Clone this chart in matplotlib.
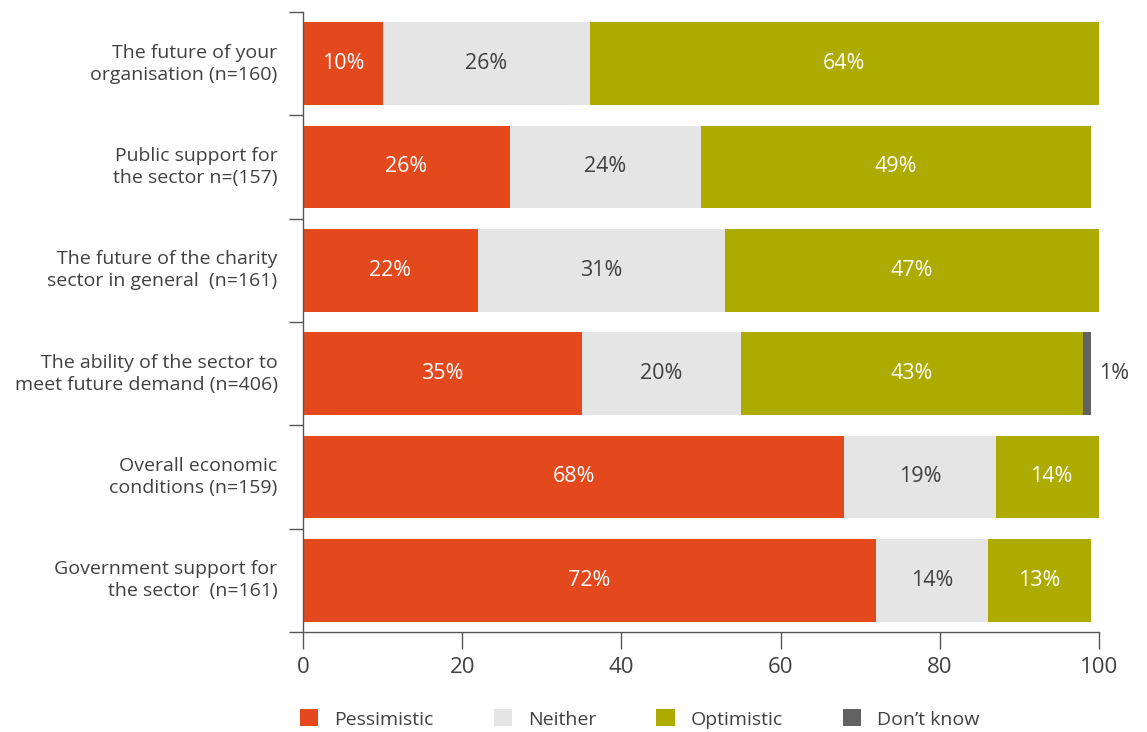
import matplotlib
matplotlib.use("Agg")
import matplotlib.pyplot as plt
from matplotlib.patches import Patch

plt.rcParams['font.family'] = ['Open Sans', 'DejaVu Sans']

categories = [
    "The future of your\norganisation (n=160)",
    "Public support for\nthe sector n=(157)",
    "The future of the charity\nsector in general  (n=161)",
    "The ability of the sector to\nmeet future demand (n=406)",
    "Overall economic\nconditions (n=159)",
    "Government support for\nthe sector  (n=161)",
]
pessimistic = [10, 26, 22, 35, 68, 72]
neither = [26, 24, 31, 20, 19, 14]
optimistic = [64, 49, 47, 43, 14, 13]
dont_know = [0, 0, 0, 1, 0, 0]
series_names = ["Pessimistic", "Neither", "Optimistic", "Don\u2019t know"]
x_ticks = [0, 20, 40, 60, 80, 100]

colors = ["#E4491E", "#E5E5E5", "#ADAA00", "#626262"]
text_colors = ["white", "#404040", "white", "#404040"]

fig = plt.figure(figsize=(11.47, 7.32), dpi=100)
ax = fig.add_axes([303 / 1147, 100 / 732, 796 / 1147, 620 / 732])

series = [pessimistic, neither, optimistic, dont_know]
ypos = list(range(len(categories)))
left = [0] * len(categories)
for vals, col, tcol in zip(series, colors, text_colors):
    ax.barh(ypos, vals, left=left, height=0.8, color=col, linewidth=0)
    for y, v, l in zip(ypos, vals, left):
        if v <= 0:
            continue
        if v >= 5:
            ax.text(l + v / 2, y, f"{v}%", ha="center", va="center",
                    color=tcol, fontsize=15.5)
        else:
            ax.text(l + v + 1.0, y, f"{v}%", ha="left", va="center",
                    color="#404040", fontsize=15.5, clip_on=False)
    left = [a + b for a, b in zip(left, vals)]

ax.set_xlim(0, 100)
ax.set_ylim(len(categories) - 0.5, -0.5)
ax.set_xticks(x_ticks)
ax.set_xticklabels([str(t) for t in x_ticks])
ax.tick_params(axis="x", length=12, width=1, color="#555555",
               labelsize=16, labelcolor="#404040", pad=6)

# y ticks sit on the boundaries between categories
ax.set_yticks([i - 0.5 for i in range(len(categories) + 1)])
ax.set_yticklabels([])
ax.tick_params(axis="y", length=10, width=1, color="#555555")
for y, name in zip(ypos, categories):
    ax.text(-3.2, y, name, ha="right", va="center", fontsize=14,
            color="#404040", linespacing=1.3, transform=ax.transData)

for side in ("top", "right"):
    ax.spines[side].set_visible(False)
for side in ("left", "bottom"):
    ax.spines[side].set_color("#555555")
    ax.spines[side].set_linewidth(1)

handles = [Patch(facecolor=c, edgecolor="none") for c in colors]
fig.legend(handles, series_names, loc="center left",
           bbox_to_anchor=(300 / 1147, 1 - 719 / 732), ncol=4, frameon=False,
           fontsize=14, labelcolor="#404040", handlelength=0.95,
           handleheight=0.95, handletextpad=0.8, columnspacing=3.1,
           borderpad=0, borderaxespad=0)

fig.savefig("out.png", dpi=100)
